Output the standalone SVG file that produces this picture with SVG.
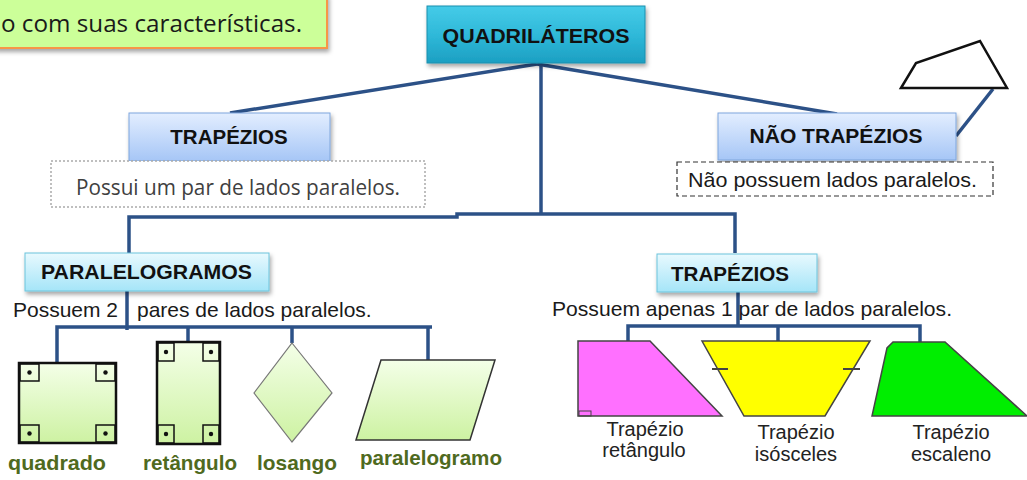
<svg xmlns="http://www.w3.org/2000/svg" width="1027" height="480" viewBox="0 0 1027 480">
<defs>
<linearGradient id="gTeal" x1="0" y1="0" x2="0" y2="1"><stop offset="0" stop-color="#45cbe8"/><stop offset="0.5" stop-color="#2fb9d9"/><stop offset="1" stop-color="#1c9fc2"/></linearGradient>
<linearGradient id="gBlue" x1="0" y1="0" x2="0" y2="1"><stop offset="0" stop-color="#e3eeff"/><stop offset="1" stop-color="#a6c6f6"/></linearGradient>
<linearGradient id="gCyan" x1="0" y1="0" x2="0" y2="1"><stop offset="0" stop-color="#e8f9fe"/><stop offset="1" stop-color="#a5e5f8"/></linearGradient>
<linearGradient id="gGreen" x1="0" y1="0" x2="0" y2="1"><stop offset="0" stop-color="#f4ffe8"/><stop offset="1" stop-color="#cdf2a2"/></linearGradient>
<filter id="sh" x="-10%" y="-20%" width="130%" height="160%"><feDropShadow dx="1.5" dy="3" stdDeviation="2" flood-color="#000" flood-opacity="0.35"/></filter>
</defs>
<style>
.lbl{font-family:"Liberation Sans",Arial,sans-serif;font-weight:bold;font-size:20.5px;fill:#111;}
.desc{font-family:"Liberation Sans",Arial,sans-serif;font-size:21px;fill:#1a1a1a;}
.cal{font-family:"Open Sans","Noto Sans",sans-serif;}
.conn{stroke:#2c5187;stroke-width:3.5;fill:none;stroke-linecap:butt;}
.shape-lbl{font-family:"Liberation Sans",Arial,sans-serif;font-weight:bold;font-size:21px;fill:#4f6a1e;}
.trap-lbl{font-family:"Liberation Sans",Arial,sans-serif;font-size:20px;fill:#222;text-anchor:middle;}
.mark{fill:none;stroke:#111;stroke-width:1.5;}
</style>

<g id="intro">
<rect x="-5" y="-5" width="332" height="53" fill="#ccff99" stroke="#f79646" stroke-width="2" filter="url(#sh)"/>
<text class="cal" x="1" y="32" font-size="24" fill="#1a1a1a" textLength="301" lengthAdjust="spacingAndGlyphs">o com suas características.</text>
</g>

<g id="connectors">
<path class="conn" d="M537,64 L230,113"/>
<path class="conn" d="M537,64 L837,114"/>
<path class="conn" d="M541,64 V214"/>
<path class="conn" d="M129,253 V217 H457 V214 H735 V253"/>
<path class="conn" d="M993,89 L956,136"/>
<path class="conn" d="M127,291 V330"/>
<path class="conn" d="M57,363 V327 H432"/>
<path class="conn" d="M188,327 V342"/>
<path class="conn" d="M292,327 V343"/>
<path class="conn" d="M428,327 V364"/>
<path class="conn" d="M738,292 V327"/>
<path class="conn" d="M628,342 V326 H920 V347"/>
<path class="conn" d="M778,326 V344"/>
</g>

<g id="quadrilateros">
<rect x="427" y="6" width="218" height="57" fill="url(#gTeal)" stroke="#1b8fae" stroke-width="1" filter="url(#sh)"/>
<text class="lbl" x="536" y="43" text-anchor="middle" font-size="20.5" textLength="187" lengthAdjust="spacingAndGlyphs">QUADRILÁTEROS</text>
</g>

<g id="trapezios-top">
<rect x="129" y="113" width="201" height="48" fill="url(#gBlue)" stroke="#7fa6dd" stroke-width="1" filter="url(#sh)"/>
<text class="lbl" x="229" y="144" text-anchor="middle">TRAPÉZIOS</text>
</g>

<g id="trapezios-desc">
<rect x="51" y="161" width="374" height="46" fill="#fff" stroke="#aaaaaa" stroke-width="1.5" stroke-dasharray="2 2"/>
<text class="cal" x="76" y="195" font-size="21" fill="#404040" textLength="324" lengthAdjust="spacingAndGlyphs">Possui um par de lados paralelos.</text>
</g>

<g id="nao-trapezios">
<rect x="718" y="113" width="238" height="47" fill="url(#gBlue)" stroke="#7fa6dd" stroke-width="1" filter="url(#sh)"/>
<text class="lbl" x="836" y="143" text-anchor="middle" textLength="173" lengthAdjust="spacingAndGlyphs">NÃO TRAPÉZIOS</text>
</g>

<g id="nao-trapezios-desc">
<rect x="677" y="162" width="316" height="34" fill="#fff" stroke="#333" stroke-width="1.2" stroke-dasharray="5 3"/>
<text class="desc" x="688" y="187" textLength="289" lengthAdjust="spacingAndGlyphs">Não possuem lados paralelos.</text>
</g>

<g id="nao-trapezio-shape">
<polygon points="901,88 916,63 980,41 1007,88" fill="#fff" stroke="#111" stroke-width="2.5" stroke-linejoin="miter"/>
</g>

<g id="paralelogramos">
<rect x="25" y="253" width="244" height="38" fill="url(#gCyan)" stroke="#6cc4dc" stroke-width="1" filter="url(#sh)"/>
<text class="lbl" x="41" y="279" font-size="21" textLength="211" lengthAdjust="spacingAndGlyphs">PARALELOGRAMOS</text>
</g>

<g id="paralelogramos-desc">
<text class="desc" y="317"><tspan x="13">Possuem 2</tspan><tspan x="137">pares de lados paralelos.</tspan></text>
</g>

<g id="trapezios-bottom">
<rect x="657" y="254" width="160" height="38" fill="url(#gCyan)" stroke="#6cc4dc" stroke-width="1" filter="url(#sh)"/>
<text class="lbl" x="671" y="281" textLength="118" lengthAdjust="spacingAndGlyphs">TRAPÉZIOS</text>
</g>

<g id="trapezios-bottom-desc">
<text class="desc" x="552" y="316" textLength="400" lengthAdjust="spacingAndGlyphs">Possuem apenas 1 par de lados paralelos.</text>
</g>

<g id="quadrado">
<rect x="19" y="363" width="97" height="80" fill="url(#gGreen)" stroke="#111" stroke-width="2.5"/>
<rect class="mark" x="20" y="364" width="19" height="17"/>
<rect class="mark" x="96" y="364" width="19" height="17"/>
<rect class="mark" x="20" y="425" width="19" height="17"/>
<rect class="mark" x="96" y="425" width="19" height="17"/>
<circle cx="29.5" cy="372.5" r="2.2" fill="#111"/>
<circle cx="105.5" cy="372.5" r="2.2" fill="#111"/>
<circle cx="29.5" cy="433.5" r="2.2" fill="#111"/>
<circle cx="105.5" cy="433.5" r="2.2" fill="#111"/>
<text class="shape-lbl" x="8" y="470" textLength="98" lengthAdjust="spacingAndGlyphs">quadrado</text>
</g>

<g id="retangulo">
<rect x="157" y="342" width="63" height="102" fill="url(#gGreen)" stroke="#111" stroke-width="2.5"/>
<rect class="mark" x="158" y="343" width="16" height="18"/>
<rect class="mark" x="203" y="343" width="16" height="18"/>
<rect class="mark" x="158" y="425" width="16" height="18"/>
<rect class="mark" x="203" y="425" width="16" height="18"/>
<circle cx="166" cy="352" r="2.2" fill="#111"/>
<circle cx="211" cy="352" r="2.2" fill="#111"/>
<circle cx="166" cy="434" r="2.2" fill="#111"/>
<circle cx="211" cy="434" r="2.2" fill="#111"/>
<text class="shape-lbl" x="143" y="470" textLength="94" lengthAdjust="spacingAndGlyphs">retângulo</text>
</g>

<g id="losango">
<polygon points="292,343 332,393 292,442 254,393" fill="url(#gGreen)" stroke="#777" stroke-width="1.2"/>
<text class="shape-lbl" x="257" y="470" textLength="80" lengthAdjust="spacingAndGlyphs">losango</text>
</g>

<g id="paralelogramo">
<polygon points="381,360 495,360 470,440 356,440" fill="url(#gGreen)" stroke="#333" stroke-width="1.5"/>
<text class="shape-lbl" x="360" y="465" textLength="142" lengthAdjust="spacingAndGlyphs">paralelogramo</text>
</g>

<g id="trapezio-retangulo">
<polygon points="578,341 650,341 722,416 578,416" fill="#ff70ff" stroke="#444" stroke-width="1.5"/>
<rect x="579" y="411" width="12" height="5" fill="none" stroke="#444" stroke-width="1"/>
<text class="trap-lbl" x="645" y="436">Trapézio</text>
<text class="trap-lbl" x="644" y="457">retângulo</text>
</g>

<g id="trapezio-isosceles">
<polygon points="702,341 870,341 825,416 744,416" fill="#ffff00" stroke="#444" stroke-width="1.5"/>
<line x1="712" y1="369" x2="728" y2="369" stroke="#444" stroke-width="2"/>
<line x1="843" y1="369" x2="860" y2="369" stroke="#444" stroke-width="2"/>
<text class="trap-lbl" x="796" y="439">Trapézio</text>
<text class="trap-lbl" x="796" y="461">isósceles</text>
</g>

<g id="trapezio-escaleno">
<polygon points="893,342 945,342 1027,416 872,416 887,348" fill="#00ee00" stroke="#444" stroke-width="1.5"/>
<text class="trap-lbl" x="951" y="439">Trapézio</text>
<text class="trap-lbl" x="951" y="461">escaleno</text>
</g>
</svg>
